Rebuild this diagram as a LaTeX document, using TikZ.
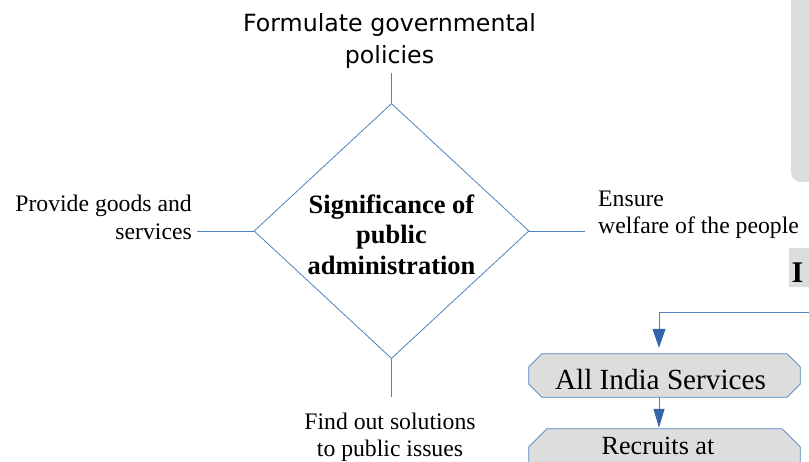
\documentclass[tikz,border=0pt]{standalone}
\usepackage{fontspec}
\setmainfont{Liberation Serif}
\newfontfamily\dejavu{DejaVu Sans}
\usetikzlibrary{shapes.geometric,arrows.meta,backgrounds}
\definecolor{lineblue}{RGB}{79,129,189}
\definecolor{arrowblue}{RGB}{52,101,170}
\definecolor{panelgray}{RGB}{221,221,221}
\begin{document}
\begin{tikzpicture}[x=1pt,y=-1pt,
  conn/.style={draw=lineblue, line width=0.8pt},
  arrowconn/.style={draw=lineblue, line width=1pt, -{Triangle[length=19pt,width=13pt,fill=arrowblue,color=arrowblue]}},
  lbl/.style={inner sep=0pt, font=\fontsize{23.7}{27.5}\selectfont},
  boxline/.style={draw=lineblue, fill=panelgray, line width=0.8pt},
  boxtext/.style={inner sep=0pt, minimum width=271pt}]
\useasboundingbox (0,0) rectangle (809,462);
\clip (0,0) rectangle (809,462);

% right-hand gray panel
\fill[panelgray, rounded corners=10pt] (791,-20) rectangle (830,182);
\node[fill=panelgray, anchor=base west, inner xsep=2.5pt, inner ysep=0pt,
      text height=35pt, text depth=4pt, text width=22pt, align=left,
      font=\bfseries\fontsize{30}{34}\selectfont] (headI) at (789,283) {I};

% diamond
\node[shape=diamond, draw=lineblue, line width=0.8pt, minimum width=275pt,
      minimum height=254pt, inner sep=0pt, align=center,
      font=\bfseries\fontsize{26.5}{30.5}\selectfont] (sig) at (391.5,231)
      {\rule{0pt}{26pt}Significance of\\public\\administration};

% labels
\node[lbl, anchor=base, align=center, font=\dejavu\fontsize{23.7}{32}\selectfont] (form) at (389.5,63.5)
  {Formulate governmental\\policies};
\node[lbl, anchor=base east, align=right] (prov) at (192,239.5) {Provide goods and\\services};
\node[lbl, anchor=base west, align=left] (ens) at (598,234) {Ensure\\welfare of the people};
\node[lbl, anchor=base, align=center] (find) at (390,456.5) {Find out solutions\\to public issues};

\coordinate (topend) at (391.5,73);
\coordinate (leftend) at (197,231);
\coordinate (rightend) at (585,231);
\coordinate (botend) at (391.5,397);
\draw[conn] (sig.north) -- (topend);
\draw[conn] (sig.west) -- (leftend);
\draw[conn] (sig.east) -- (rightend);
\draw[conn] (sig.south) -- (botend);

% boxes
\node[boxtext, minimum height=43pt, text height=36pt, text depth=7pt,
      font=\fontsize{29.2}{34}\selectfont] (aib) at (664.5,375.5) {All India Services\hspace*{8pt}};
\node[boxtext, minimum height=70pt, text height=25pt, text depth=45pt,
      font=\fontsize{26.2}{31}\selectfont] (rec) at (664.5,464) {Recruits at\hspace*{13pt}};
\begin{scope}[on background layer]
\draw[boxline] ([xshift=13pt]aib.north west) -- ([xshift=-13pt]aib.north east)
  -- ([yshift=-13pt]aib.north east) -- ([yshift=13pt]aib.south east)
  -- ([xshift=-13pt]aib.south east) -- ([xshift=13pt]aib.south west)
  -- ([yshift=13pt]aib.south west) -- ([yshift=-13pt]aib.north west) -- cycle;
\draw[boxline] ([xshift=18pt]rec.north west) -- ([xshift=-18pt]rec.north east)
  -- ([yshift=-18pt]rec.north east) -- (rec.south east)
  -- (rec.south west) -- ([yshift=-18pt]rec.north west) -- cycle;
\end{scope}

% connectors
\coordinate (arrx) at (659,0);
\coordinate (feed) at (815,313);
\draw[arrowconn, shorten >=6pt] (feed) -| (aib.north -| arrx);
\draw[arrowconn, -{Triangle[length=19pt,width=11pt,fill=arrowblue,color=arrowblue]}, shorten >=1pt]
  (aib.south -| arrx) -- (rec.north -| arrx);
\end{tikzpicture}
\end{document}
